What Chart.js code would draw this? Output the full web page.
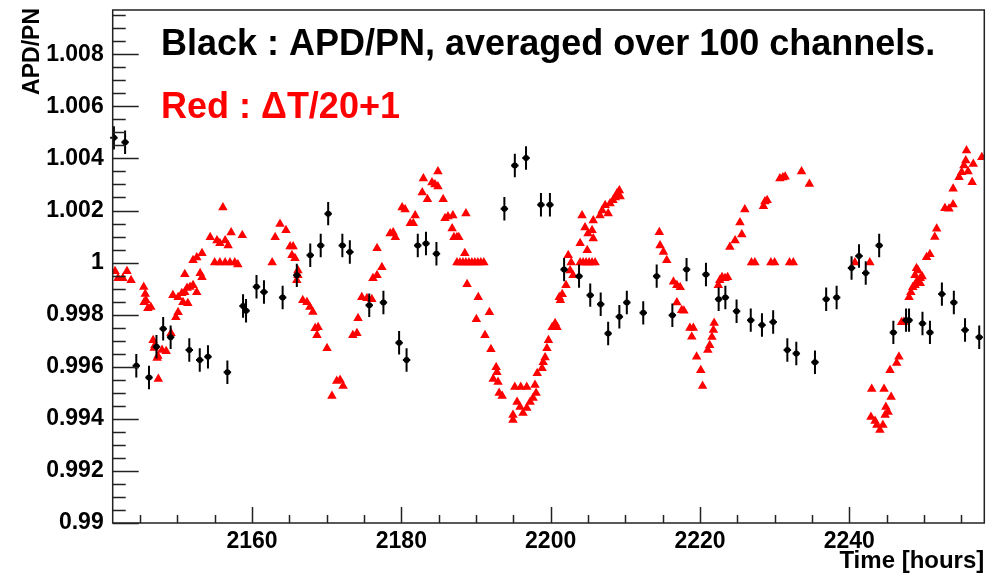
<!DOCTYPE html>
<html>
<head>
<meta charset="utf-8">
<script src="https://cdn.jsdelivr.net/npm/chart.js@4.4.1/dist/chart.umd.min.js"></script>
<style>
  body { margin: 0; background: #fff; }
  canvas { display: block; }
</style>
</head>
<body>
<canvas id="apdChart" width="998" height="579"></canvas>
<script>
// Axis ranges and tick labels
const xMin = 2141.34, xMax = 2258.08;
const yMin = 0.99, yMax = 1.0097;
const xTicks = [2160, 2180, 2200, 2220, 2240];
const yTicks = [0.99, 0.992, 0.994, 0.996, 0.998, 1.0, 1.002, 1.004, 1.006, 1.008];

// Black : APD/PN averaged over 100 channels (with errors)
const blackTime = [
  2141.5, 2143.0, 2144.5, 2146.2, 2147.2, 2148.1, 2149.1, 2151.6, 2153.0, 2154.1,
  2156.7, 2158.8, 2159.2, 2160.6, 2161.6, 2164.1, 2166.0, 2167.8, 2169.2, 2170.2,
  2172.1, 2173.1, 2175.7, 2177.6, 2179.7, 2180.7, 2182.2, 2183.3, 2184.7, 2193.8,
  2195.2, 2196.7, 2198.7, 2199.9, 2201.8, 2203.8, 2205.3, 2206.7, 2207.7, 2209.2,
  2210.2, 2212.4, 2214.2, 2216.3, 2218.2, 2220.8, 2222.5, 2223.4, 2224.9, 2226.8,
  2228.3, 2229.8, 2231.7, 2232.9, 2235.4, 2236.9, 2238.3, 2240.3, 2241.3, 2242.2,
  2244.0, 2245.9, 2247.6, 2248.0, 2249.8, 2250.8, 2252.4, 2254.0, 2255.5, 2257.4
];
const blackVal = [
  1.00479, 1.00462, 0.99604, 0.99559, 0.99677, 0.99746, 0.99713, 0.99664, 0.99626, 0.99638,
  0.99579, 0.99833, 0.99815, 0.99907, 0.99887, 0.99866, 0.99951, 1.00028, 1.00066, 1.00188,
  1.00066, 1.00041, 0.99836, 0.99847, 0.99692, 0.99626, 1.00066, 1.00073, 1.00034, 1.00207,
  1.00373, 1.00402, 1.00222, 1.00222, 0.99973, 0.99948, 0.99875, 0.99840, 0.99728, 0.99792,
  0.99847, 0.99807, 0.99948, 0.99798, 0.99973, 0.99954, 0.99859, 0.99866, 0.99813, 0.99779,
  0.99760, 0.99772, 0.99664, 0.99651, 0.99617, 0.99859, 0.99866, 0.99979, 1.00025, 0.99960,
  1.00066, 0.99732, 0.99779, 0.99779, 0.99766, 0.99732, 0.99879, 0.99847, 0.99741, 0.99713
];
const blackErrY = 0.00045;
const blackErrX = 0.5;

// Red : dT/20+1
const redTime = [
  2141.65, 2142.05, 2142.7, 2143.25, 2143.8, 2145.5, 2145.7, 2145.8, 2145.55, 2146.05,
  2146.45, 2146.75, 2147.0, 2146.9, 2147.3, 2147.4, 2147.45, 2147.95, 2148.5, 2149.15,
  2149.8, 2150.1, 2149.4, 2150.1, 2150.6, 2151.0, 2151.3, 2151.7, 2152.1, 2150.75,
  2151.4, 2152.6, 2151.0, 2152.1, 2152.6, 2153.3, 2153.05, 2153.3, 2154.4, 2155.3,
  2155.7, 2156.4, 2156.8, 2156.1, 2155.0, 2155.7, 2156.4, 2157.05, 2157.7, 2158.1,
  2157.2, 2158.7, 2162.7, 2163.1, 2163.75, 2164.55, 2165.1, 2165.5, 2165.35, 2165.75,
  2166.15, 2166.15, 2166.0, 2166.8, 2167.35, 2167.75, 2168.15, 2168.45, 2168.85, 2168.7,
  2170.05, 2170.7, 2171.35, 2171.8, 2172.2, 2173.5, 2174.05, 2174.2, 2174.7, 2175.4,
  2176.05, 2176.2, 2176.75, 2177.4, 2176.75, 2178.5, 2178.9, 2179.2, 2180.1, 2180.5,
  2181.2, 2181.6, 2181.85, 2182.8, 2182.95, 2183.5, 2184.1, 2184.5, 2184.9, 2184.9,
  2185.6, 2185.85, 2186.25, 2186.9, 2186.8, 2187.05, 2187.45, 2187.7, 2188.65, 2188.5,
  2187.45, 2187.85, 2188.25, 2188.65, 2189.05, 2189.45, 2189.85, 2190.25, 2190.65, 2191.05,
  2188.8, 2190.3, 2190.05, 2191.8, 2191.2, 2192.0, 2192.7, 2192.8, 2192.3, 2192.95,
  2193.1, 2193.5, 2195.2, 2196.0, 2196.8, 2194.95, 2194.95, 2195.5, 2195.9, 2196.3,
  2196.8, 2197.25, 2197.65, 2198.05, 2197.9, 2198.2, 2198.85, 2199.0, 2199.25, 2199.5,
  2199.7, 2200.2, 2200.6, 2200.85, 2201.15, 2201.3, 2201.55, 2202.05, 2202.35, 2202.75,
  2203.0, 2202.6, 2203.95, 2204.35, 2204.75, 2205.15, 2205.55, 2205.95, 2203.95, 2204.9,
  2204.2, 2204.6, 2205.0, 2205.55, 2205.7, 2205.7, 2206.6, 2206.9, 2207.3, 2207.7,
  2207.95, 2208.35, 2208.65, 2208.9, 2209.2, 2209.3, 2214.55, 2214.65, 2215.1, 2215.55,
  2216.45, 2216.9, 2216.9, 2217.55, 2217.35, 2217.85, 2218.65, 2219.1, 2218.9, 2219.55,
  2220.1, 2220.35, 2221.05, 2221.3, 2221.6, 2221.8, 2221.9, 2222.45, 2222.65, 2222.95,
  2223.35, 2223.7, 2224.0, 2224.7, 2225.35, 2225.6, 2226.0, 2226.9, 2227.35, 2228.5,
  2228.7, 2229.0, 2229.5, 2230.0, 2230.7, 2231.1, 2231.4, 2232.0, 2232.5, 2233.6,
  2234.65, 2240.75, 2242.75, 2242.9, 2243.0, 2243.45, 2243.7, 2244.1, 2244.5, 2244.65,
  2244.8, 2244.9, 2245.2, 2245.6, 2245.45, 2246.35, 2246.65, 2247.0, 2247.3, 2248.0,
  2248.25, 2248.5, 2248.8, 2249.05, 2249.5, 2248.8, 2249.2, 2249.5, 2249.0, 2249.75,
  2250.35, 2250.8, 2251.45, 2251.7, 2252.8, 2253.35, 2253.9, 2253.9, 2254.7, 2255.05,
  2255.35, 2255.6, 2255.7, 2255.9, 2256.6, 2256.45, 2257.75
];
const redVal = [
  0.99967, 0.99940, 0.99940, 0.99967, 0.99932, 0.99906, 0.99879, 0.99855, 0.99848, 0.99825,
  0.99829, 0.99702, 0.99683, 0.99672, 0.99634, 0.99641, 0.99553, 0.99664, 0.99660, 0.99729,
  0.99790, 0.99809, 0.99875, 0.99867, 0.99882, 0.99886, 0.99902, 0.99906, 0.99913, 0.99848,
  0.99844, 0.99886, 0.99955, 1.00009, 1.00020, 1.00036, 0.99959, 0.99944, 1.00097, 1.00085,
  1.00074, 1.00085, 1.00066, 1.00212, 1.00000, 1.00000, 1.00000, 1.00000, 1.00000, 0.99993,
  1.00116, 1.00105, 1.00000, 1.00097, 1.00148, 1.00124, 1.00062, 1.00062, 1.00028, 1.00017,
  0.99970, 0.99951, 0.99932, 0.99855, 0.99848, 0.99829, 0.99810, 0.99748, 0.99752, 0.99721,
  0.99671, 0.99488, 0.99545, 0.99549, 0.99526, 0.99721, 0.99729, 0.99786, 0.99867, 0.99863,
  0.99859, 0.99940, 0.99951, 0.99982, 1.00055, 1.00112, 1.00116, 1.00097, 1.00212, 1.00204,
  1.00151, 1.00151, 1.00181, 1.00269, 1.00323, 1.00243, 1.00308, 1.00300, 1.00292, 1.00350,
  1.00243, 1.00170, 1.00177, 1.00181, 1.00131, 1.00097, 1.00097, 1.00097, 1.00189, 1.00036,
  1.00000, 1.00000, 1.00000, 1.00000, 1.00000, 1.00000, 1.00000, 1.00000, 1.00000, 1.00000,
  0.99917, 0.99867, 0.99782, 0.99809, 0.99721, 0.99667, 0.99598, 0.99579, 0.99553, 0.99541,
  0.99499, 0.99488, 0.99522, 0.99522, 0.99522, 0.99415, 0.99396, 0.99465, 0.99445, 0.99422,
  0.99442, 0.99465, 0.99480, 0.99499, 0.99530, 0.99575, 0.99594, 0.99617, 0.99636, 0.99671,
  0.99702, 0.99752, 0.99767, 0.99752, 0.99867, 0.99855, 0.99878, 0.99913, 1.00028, 1.00000,
  0.99951, 0.99970, 1.00000, 1.00000, 1.00000, 1.00000, 1.00000, 1.00000, 1.00074, 1.00047,
  1.00181, 1.00135, 1.00112, 1.00124, 1.00162, 1.00093, 1.00181, 1.00200, 1.00220, 1.00189,
  1.00227, 1.00239, 1.00250, 1.00266, 1.00277, 1.00254, 1.00117, 1.00066, 1.00041, 1.00009,
  0.99926, 0.99913, 0.99847, 0.99817, 0.99905, 0.99815, 0.99749, 0.99749, 0.99715, 0.99638,
  0.99587, 0.99526, 0.99664, 0.99683, 0.99714, 0.99741, 0.99768, 0.99913, 0.99932, 0.99944,
  0.99940, 0.99944, 1.00060, 1.00085, 1.00154, 1.00108, 1.00204, 1.00000, 1.00000, 1.00216,
  1.00235, 1.00239, 1.00000, 1.00000, 1.00323, 1.00327, 1.00330, 1.00000, 1.00000, 1.00350,
  1.00302, 1.00000, 1.00000, 0.99407, 0.99515, 0.99392, 0.99376, 0.99357, 0.99376, 0.99515,
  0.99415, 0.99445, 0.99426, 0.99484, 0.99587, 0.99614, 0.99638, 0.99771, 0.99772, 0.99867,
  0.99886, 0.99905, 0.99913, 0.99928, 0.99940, 0.99951, 0.99970, 0.99921, 0.99978, 0.99947,
  1.00021, 1.00032, 1.00098, 1.00130, 1.00209, 1.00207, 1.00223, 1.00284, 1.00328, 1.00347,
  1.00373, 1.00392, 1.00430, 1.00350, 1.00379, 1.00309, 1.00405
];

const FONT = '"Liberation Sans", Arial, Helvetica, sans-serif';
Chart.defaults.font.family = FONT;

// ROOT style frame, inward ticks, error bars and texts
const rootFrame = {
    id: 'rootFrame',
    afterDatasetsDraw(chart) {
        const { ctx, chartArea: a, scales: { x, y } } = chart;
        ctx.save();

        // error bars of black points
        ctx.strokeStyle = '#000';
        ctx.lineWidth = 2;
        blackTime.forEach((t, i) => {
            const px = x.getPixelForValue(t);
            const py = y.getPixelForValue(blackVal[i]);
            ctx.beginPath();
            ctx.moveTo(px, y.getPixelForValue(blackVal[i] - blackErrY));
            ctx.lineTo(px, y.getPixelForValue(blackVal[i] + blackErrY));
            ctx.moveTo(x.getPixelForValue(t - blackErrX), py);
            ctx.lineTo(x.getPixelForValue(t + blackErrX), py);
            ctx.stroke();
        });

        // frame
        ctx.strokeStyle = '#222';
        ctx.lineWidth = 1.5;
        ctx.strokeRect(a.left, a.top, a.right - a.left, a.bottom - a.top);

        // y ticks
        ctx.beginPath();
        for (let v = yMin; v <= yMax + 1e-9; v += 0.0005) {
            const py = Math.round(y.getPixelForValue(v)) + 0.5;
            const major = Math.abs(Math.round(v / 0.002) * 0.002 - v) < 1e-7;
            ctx.moveTo(a.left, py);
            ctx.lineTo(a.left + (major ? 26 : 13), py);
        }
        // x ticks
        for (let t = 2145; t <= xMax; t += 5) {
            const px = Math.round(x.getPixelForValue(t)) + 0.5;
            const major = t % 20 === 0;
            ctx.moveTo(px, a.bottom);
            ctx.lineTo(px, a.bottom - (major ? 16 : 8));
        }
        ctx.stroke();

        // axis titles
        ctx.fillStyle = '#000';
        ctx.font = 'bold 24px ' + FONT;
        ctx.textAlign = 'right';
        ctx.textBaseline = 'alphabetic';
        ctx.fillText('Time [hours]', a.right, 568);

        ctx.save();
        ctx.translate(39, 8);
        ctx.rotate(-Math.PI / 2);
        ctx.font = 'bold 23px ' + FONT;
        ctx.fillText('APD/PN', 0, 0);
        ctx.restore();

        // annotations
        ctx.textAlign = 'left';
        ctx.font = 'bold 36px ' + FONT;
        ctx.fillStyle = '#000';
        ctx.fillText('Black : APD/PN, averaged over 100 channels.', 161, 55);
        ctx.fillStyle = '#ff0000';
        ctx.fillText('Red : \u0394T/20+1', 161, 118);

        ctx.restore();
    }
};

const chart = new Chart(document.getElementById('apdChart').getContext('2d'), {
    type: 'scatter',
    data: {
        datasets: [
            {
                label: 'APD/PN',
                data: blackTime.map((t, i) => ({ x: t, y: blackVal[i] })),
                pointStyle: 'circle',
                pointRadius: 3,
                backgroundColor: '#000',
                borderColor: '#000',
                borderWidth: 0
            },
            {
                label: 'dT/20+1',
                data: redTime.map((t, i) => ({ x: t, y: redVal[i] })),
                pointStyle: 'triangle',
                pointRadius: 4,
                backgroundColor: '#ff0000',
                borderColor: '#ff0000',
                borderWidth: 1.5
            }
        ]
    },
    options: {
        responsive: false,
        animation: false,
        layout: { padding: { top: 10, right: 13.7, left: 0, bottom: 0 } },
        plugins: {
            legend: { display: false },
            tooltip: { enabled: false }
        },
        scales: {
            x: {
                type: 'linear',
                min: xMin,
                max: xMax,
                grid: { display: false },
                border: { display: false },
                afterBuildTicks: s => { s.ticks = xTicks.map(v => ({ value: v })); },
                afterFit: s => { s.height = 56; s.paddingLeft = 0; s.paddingRight = 0; },
                ticks: {
                    color: '#000',
                    font: { size: 23, weight: 'bold' },
                    padding: -3,
                    maxRotation: 0,
                    autoSkip: false,
                    callback: v => String(v)
                }
            },
            y: {
                type: 'linear',
                min: yMin,
                max: yMax,
                grid: { display: false },
                border: { display: false },
                afterBuildTicks: s => { s.ticks = yTicks.map(v => ({ value: v })); },
                afterFit: s => { s.width = 112.7; s.paddingTop = 0; s.paddingBottom = 0; },
                ticks: {
                    color: '#000',
                    font: { size: 23, weight: 'bold' },
                    padding: 1,
                    autoSkip: false,
                    callback: v => String(parseFloat(v.toFixed(3)))
                }
            }
        }
    },
    plugins: [rootFrame]
});
</script>
</body>
</html>
